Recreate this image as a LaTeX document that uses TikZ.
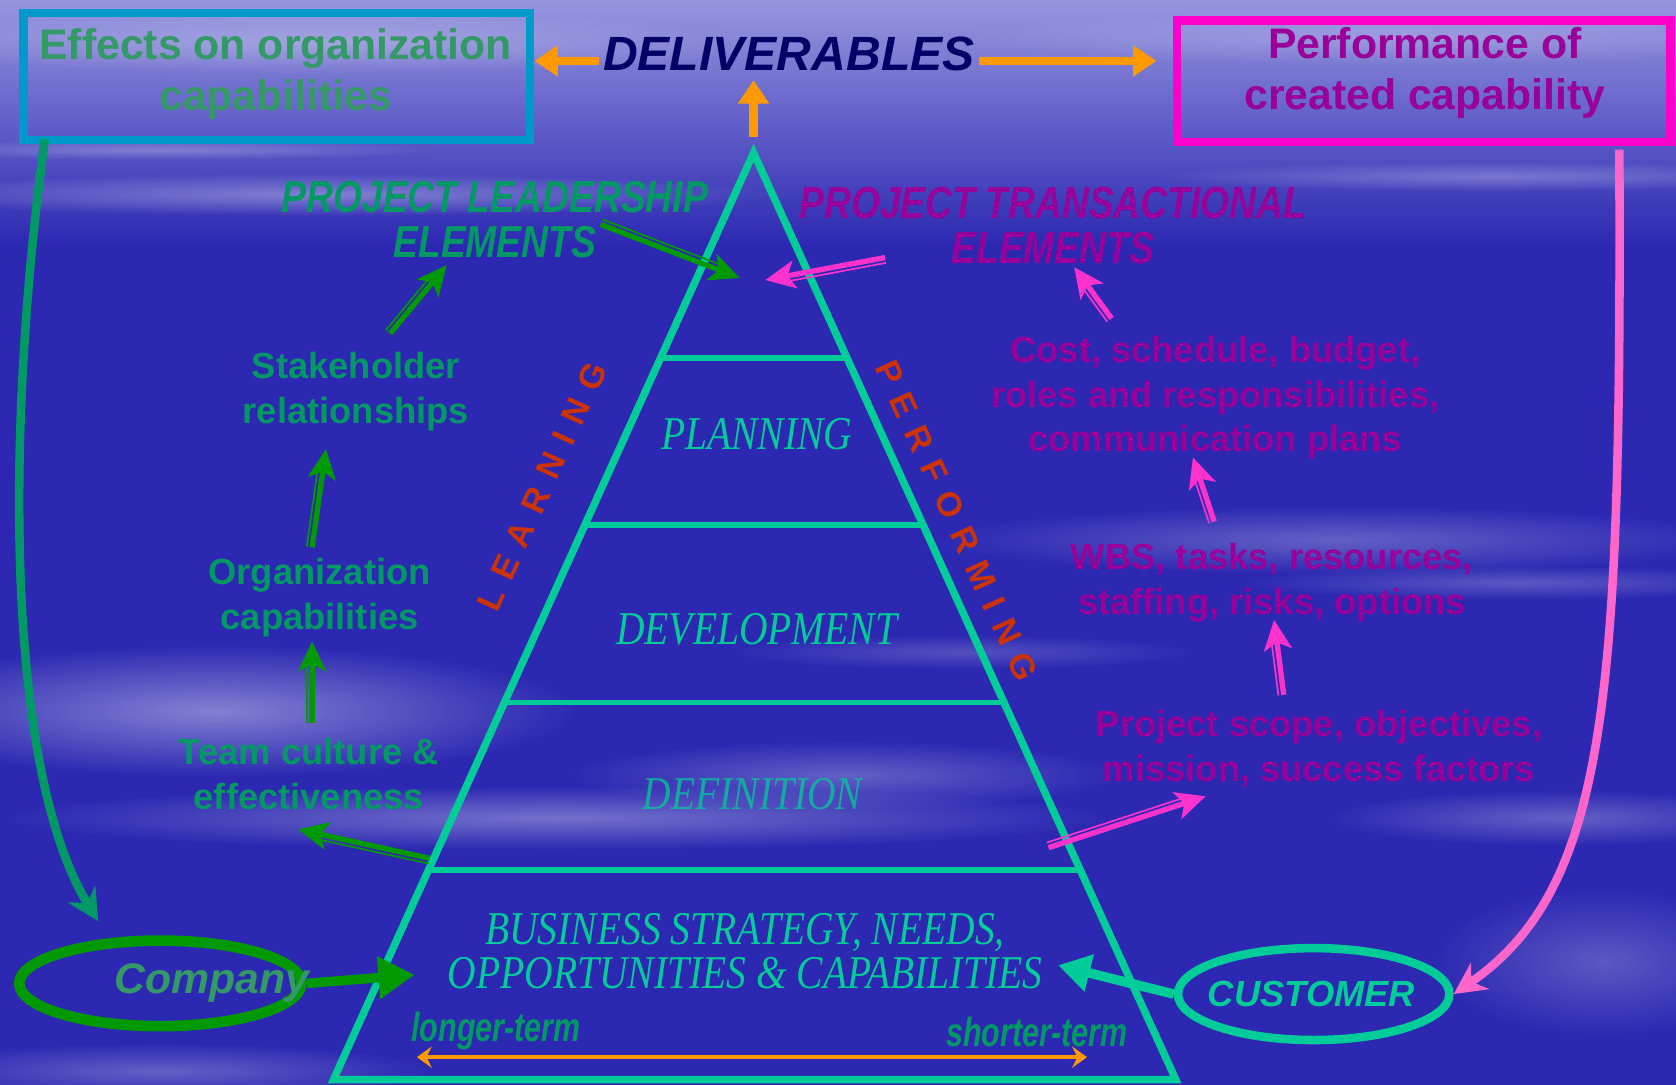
\documentclass[tikz,border=0pt]{standalone}
\usepackage{fontspec}
\setmainfont{Liberation Sans}
\newfontfamily\narrowserif{Liberation Serif}[FakeStretch=0.84]
\newfontfamily\narrowsans{Liberation Sans}[FakeStretch=0.75]
\newfontfamily\semisans{Liberation Sans}[FakeStretch=0.83]
\usetikzlibrary{calc,arrows.meta,shapes.geometric,fadings}
\definecolor{skyblue}{RGB}{44,40,178}
\definecolor{skylight}{RGB}{150,150,222}
\definecolor{pyrteal}{RGB}{0,204,153}
\definecolor{leafgreen}{RGB}{0,153,102}
\definecolor{arrowgreen}{RGB}{0,153,0}
\definecolor{boxgreen}{RGB}{51,153,102}
\definecolor{plum}{RGB}{153,0,153}
\definecolor{hotpink}{RGB}{255,0,204}
\definecolor{pinkarrow}{RGB}{255,51,204}
\definecolor{softpink}{RGB}{255,102,204}
\definecolor{amber}{RGB}{255,153,0}
\definecolor{deepnavy}{RGB}{0,0,102}
\definecolor{rust}{RGB}{204,51,0}
\definecolor{boxcyan}{RGB}{0,153,204}
\tikzfading[name=softcloud, inner color=transparent!25, outer color=transparent!100]
\def\gap{\kern 12pt}
\newcommand\twinarrow[3]{% colour, from, to
  \draw[line width=5pt, #1, -{Stealth[length=28pt,width=26pt,inset=7pt]}] (#2) -- (#3);
  \draw[line width=1.6pt, #1, shorten >=20pt] ($(#2)!5pt!90:(#3)$) -- ($(#3)!5pt!-90:(#2)$);}

\begin{document}
\begin{tikzpicture}[x=1pt,y=-1pt,
  bigtext/.style={font=\fontsize{40}{48}\selectfont\bfseries, align=center},
  sidetext/.style={font=\fontsize{34}{42}\selectfont\bfseries, align=center},
  headtext/.style={font=\semisans\bfseries\itshape\fontsize{42}{42}\selectfont, align=center},
  level/.style={text=pyrteal, font=\narrowserif\itshape\fontsize{44}{41}\selectfont, align=center},
  slope/.style={text=rust, font=\fontsize{32}{32}\selectfont\bfseries},
  amberarrow/.style={amber, line width=8pt, -{Triangle[length=22pt,width=28pt]}},
  bendarrow/.style={line width=8pt, -{Stealth[length=30pt,width=30pt,inset=10pt]}}]
	%%%%% SKY %%%%%
	\useasboundingbox (0,0) rectangle (1568,1015);
	\fill[skyblue] (0,0) rectangle (1568,1015);
	\shade[top color=skylight, bottom color=skyblue] (0,0) rectangle (1568,230);
	\foreach \cx/\cy/\rx/\ry/\op in {300/182/420/20/0.45, 1400/165/320/14/0.35, 150/140/260/10/0.35,
		1250/505/380/32/0.35, 1420/545/260/16/0.3, 200/665/340/62/0.55, 520/765/520/30/0.45,
		1460/765/220/26/0.35, 790/725/260/32/0.35, 1500/900/160/70/0.3, 150/1002/260/26/0.35,
		900/610/220/16/0.25, 300/40/420/30/0.35, 1300/35/420/25/0.25}
		\fill[white, fill opacity=\op, path fading=softcloud] (\cx,\cy) ellipse [x radius=\rx, y radius=\ry];
	
	%%%%% PYRAMID %%%%%
	\coordinate (apex) at (705,143);
	\coordinate (bl) at (312,1010);
	\coordinate (br) at (1100,1010);
	\draw[pyrteal, line width=7pt, line join=miter] (bl) -- (apex) -- (br) -- cycle;
	\foreach \t in {0.2215,0.4014,0.5928,0.7739}
		\draw[pyrteal, line width=5pt] ($(apex)!\t!(bl)$) -- ($(apex)!\t!(br)$);
	
	\node[level] (planning) at (708,406) {PLANNING};
	\node[level] (development) at (708,589) {DEVELOPMENT};
	\node[level, text opacity=0.75] (definition) at (704,743) {DEFINITION};
	\node[level] (business) at (697,890) {BUSINESS STRATEGY, NEEDS,\\OPPORTUNITIES \& CAPABILITIES};
	
	\node[leafgreen, font=\narrowsans\bfseries\itshape\fontsize{38}{38}\selectfont] (longer) at (464,965) {longer-term};
	\node[leafgreen, font=\narrowsans\bfseries\itshape\fontsize{38}{38}\selectfont] (shorter) at (970,965) {shorter-term};
	\coordinate (termL) at (390,989);
	\coordinate (termR) at (1017,989);
	\draw[amber, line width=4pt, {Stealth[length=14pt,width=20pt,inset=5pt]}-{Stealth[length=14pt,width=20pt,inset=5pt]}] (termL) -- (termR);
	
	\node[slope, rotate=65.6] (learning) at (507,455) {L\gap E\gap A\gap R\gap N\gap I\gap N\gap G};
	\node[slope, rotate=-65.6] (performing) at (895,487) {P\gap E\gap R\gap F\gap O\gap R\gap M\gap I\gap N\gap G};
	
	%%%%% TOP %%%%%
	\node[draw=boxcyan, line width=8pt, minimum width=474pt, minimum height=119pt] (effects) at (259,71.5) {};
	\node[bigtext, text=boxgreen] (effectstext) at (258,69) {Effects on organization\\capabilities};
	\node[draw=hotpink, line width=8pt, minimum width=462pt, minimum height=114pt] (perf) at (1332,76) {};
	\node[bigtext, text=plum] (perftext) at (1333,68) {Performance of\\created capability};
	\node[text=deepnavy, font=\fontsize{45}{48}\selectfont\bfseries\itshape, inner sep=4pt] (deliv) at (738,50) {DELIVERABLES};
	
	\coordinate (delivR) at (1082,57);
	\coordinate (delivU) at (705,75);
	\draw[amberarrow] (deliv.west |- 0,57) -- (effects.east |- 0,57);
	\draw[amberarrow] (deliv.east |- 0,57) -- (delivR);
	\draw[amberarrow] ($(apex)+(0,-15)$) -- (delivU);
	
	%%%%% LEFT SIDE %%%%%
	\node[headtext, text=leafgreen] (lead) at (463,205) {PROJECT LEADERSHIP\\ELEMENTS};
	\node[sidetext, text=leafgreen] (stake) at (333,366) {Stakeholder\\relationships};
	\node[sidetext, text=leafgreen] (org) at (299,559) {Organization\\capabilities};
	\node[sidetext, text=leafgreen] (team) at (289,724) {Team culture \&\\effectiveness};
	
	\coordinate (leadA) at (562,210);   \coordinate (leadB) at (692,260);
	\coordinate (stakeA) at (365,312);  \coordinate (stakeB) at (418,248);
	\coordinate (orgA) at (292,512);    \coordinate (orgB) at (305,420);
	\coordinate (teamA) at (292,676);   \coordinate (teamB) at (292,600);
	\coordinate (pyrL) at (402,803);    \coordinate (pyrLB) at (279,776);
	\twinarrow{arrowgreen}{leadA}{leadB}
	\twinarrow{arrowgreen}{stakeA}{stakeB}
	\twinarrow{arrowgreen}{orgA}{orgB}
	\twinarrow{arrowgreen}{teamA}{teamB}
	\twinarrow{arrowgreen}{pyrL}{pyrLB}
	
	%%%%% RIGHT SIDE %%%%%
	\node[headtext, text=plum] (trans) at (985,211) {PROJECT TRANSACTIONAL\\ELEMENTS};
	\node[sidetext, text=plum] (cost) at (1137,372) {Cost, schedule, budget,\\roles and responsibilities,\\communication plans};
	\node[sidetext, text=plum] (wbs) at (1190,545) {WBS, tasks, resources,\\staffing, risks, options};
	\node[sidetext, text=plum] (scope) at (1234,700) {Project scope, objectives,\\mission, success factors};
	
	\coordinate (transA) at (828,241);  \coordinate (transB) at (716,262);
	\coordinate (costA) at (1040,298);  \coordinate (costB) at (1005,250);
	\coordinate (wbsA) at (1136,488);   \coordinate (wbsB) at (1116,428);
	\coordinate (scopeA) at (1201,650); \coordinate (scopeB) at (1192,580);
	\coordinate (pyrR) at (981,793);    \coordinate (pyrRB) at (1128,745);
	\twinarrow{pinkarrow}{transA}{transB}
	\twinarrow{pinkarrow}{costA}{costB}
	\twinarrow{pinkarrow}{wbsA}{wbsB}
	\twinarrow{pinkarrow}{scopeA}{scopeB}
	\twinarrow{pinkarrow}{pyrR}{pyrRB}
	
	%%%%% BOTTOM %%%%%
	\node[ellipse, draw=arrowgreen, line width=10pt, minimum width=264pt, minimum height=80pt] (company) at (150,920) {};
	\node[text=boxgreen, font=\fontsize{40}{48}\selectfont\bfseries\itshape] (companytext) at (198,920) {Company};
	\node[ellipse, draw=pyrteal, line width=8pt, minimum width=254pt, minimum height=86pt] (customer) at (1229,930) {};
	\node[text=pyrteal, font=\fontsize{34}{42}\selectfont\bfseries\itshape] (customertext) at (1227,930) {CUSTOMER};
	
	\coordinate (companyB) at (388,912);
	\coordinate (customerB) at (990,903);
	\draw[arrowgreen, line width=9pt, -{Triangle[length=34pt,width=38pt]}] (company.east) -- (companyB);
	\draw[pyrteal, line width=9pt, -{Triangle[length=30pt,width=34pt]}] (customer.west) -- (customerB);
	
	\coordinate (leftA) at (42,130);
	\coordinate (leftB) at (92,862);
	\coordinate (rightA) at (1515,140);
	\draw[bendarrow, leafgreen] (leftA) .. controls (5,400) and (5,720) .. (leftB);
	\draw[bendarrow, softpink] (rightA) .. controls (1517,650) and (1505,830) .. (customer.east);
	%%%%% END %%%%%
\end{tikzpicture}
\end{document}
